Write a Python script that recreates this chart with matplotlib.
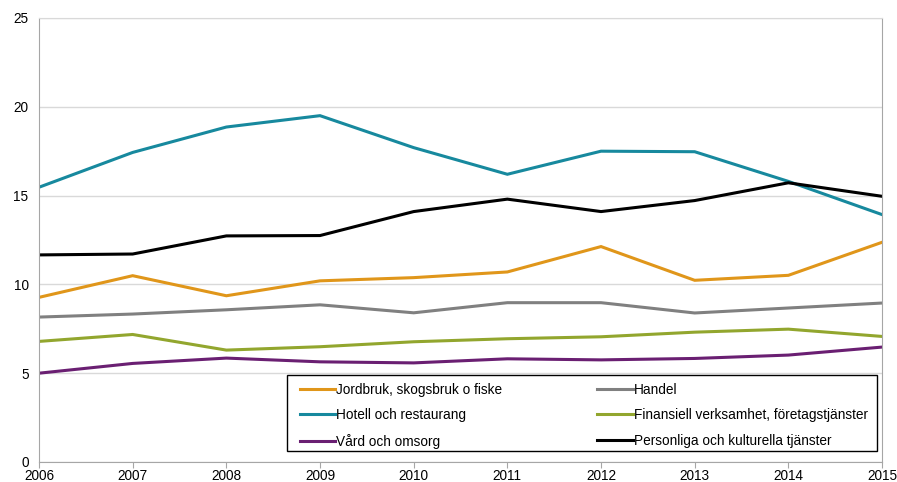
import matplotlib
matplotlib.use("Agg")
import matplotlib.pyplot as plt
from matplotlib.patches import Rectangle

plt.rcParams['font.family'] = ['Liberation Sans', 'DejaVu Sans']

years = [2006, 2007, 2008, 2009, 2010, 2011, 2012, 2013, 2014, 2015]

jordbruk = [9.27, 10.49, 9.36, 10.2, 10.38, 10.7, 12.13, 10.23, 10.51, 12.37]
handel = [8.16, 8.33, 8.57, 8.85, 8.4, 8.97, 8.97, 8.39, 8.67, 8.95]
hotell = [15.47, 17.43, 18.86, 19.5, 17.7, 16.2, 17.5, 17.47, 15.8, 13.93]
finans = [6.79, 7.18, 6.3, 6.49, 6.77, 6.94, 7.05, 7.31, 7.48, 7.07]
vard = [5.0, 5.55, 5.85, 5.64, 5.58, 5.81, 5.75, 5.83, 6.02, 6.47]
personliga = [11.66, 11.71, 12.73, 12.75, 14.1, 14.8, 14.1, 14.72, 15.72, 14.96]

labels = ["Jordbruk, skogsbruk o fiske", "Handel", "Hotell och restaurang",
          "Finansiell verksamhet, företagstjänster", "Vård och omsorg",
          "Personliga och kulturella tjänster"]
colors = ["#E0961A", "#808080", "#17899E", "#92A62E", "#6A1F72", "#000000"]
series = [jordbruk, handel, hotell, finans, vard, personliga]

fs = 9.8

fig = plt.figure(figsize=(8.97, 4.82), dpi=100)
ax = fig.add_axes([0.0435, 0.0415, 0.9398, 0.9212])

lines = []
for vals, lab, col in zip(series, labels, colors):
    ln, = ax.plot(years, vals, color=col, lw=2.2, label=lab, solid_joinstyle="miter")
    lines.append(ln)

ax.set_xlim(2006, 2015)
ax.set_ylim(0, 25)
ax.set_xticks(years)
ax.set_yticks([0, 5, 10, 15, 20, 25])
ax.grid(axis="y", color="#D9D9D9", lw=1)
ax.set_axisbelow(True)
for side in ["left", "bottom", "right"]:
    ax.spines[side].set_color("#A6A6A6")
ax.spines["top"].set_color("#D9D9D9")
ax.tick_params(axis="x", length=4, color="#A6A6A6", labelsize=fs, pad=1)
ax.tick_params(axis="y", length=0, labelsize=fs, pad=7.5)

# legend box drawn separately so the frame sits where it should
ax.add_patch(Rectangle((0.2945, 0.0248), 0.6992, 0.1712, transform=ax.transAxes,
                       facecolor="white", edgecolor="black", lw=1.0, zorder=4))

# legend order: column-wise fill
order = [0, 2, 4, 1, 3, 5]
leg = ax.legend([lines[i] for i in order], [labels[i] for i in order], ncol=2,
                loc="upper left", bbox_to_anchor=(0.3096, 0.1790),
                fontsize=fs, frameon=False,
                handlelength=2.6, handletextpad=0.05, borderaxespad=0,
                labelspacing=0.86, borderpad=0, columnspacing=7.0)
leg.set_zorder(5)

fig.savefig("out.png", dpi=100)
